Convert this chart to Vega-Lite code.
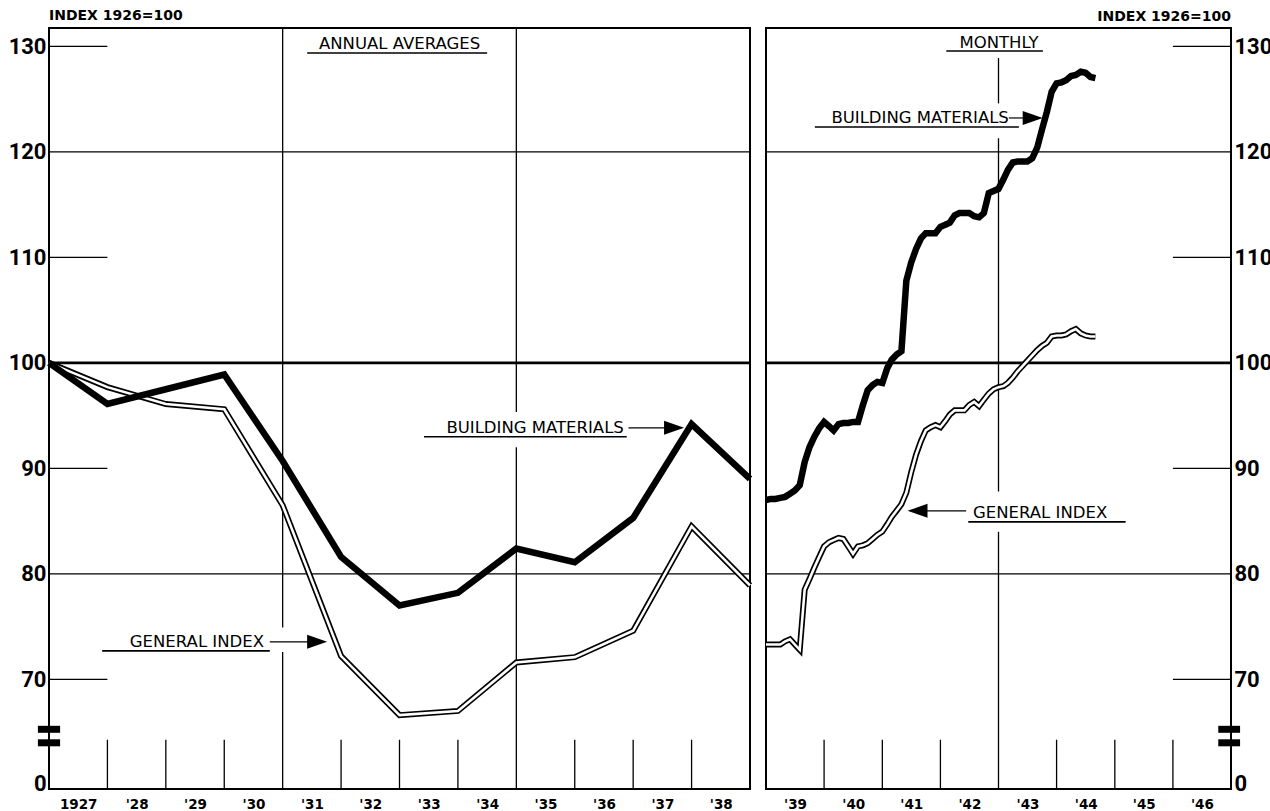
{
  "$schema": "https://vega.github.io/schema/vega-lite/v6.json",
  "background": "white",
  "padding": {"left": 7, "top": 8, "right": 0, "bottom": 0},
  "spacing": 16,
  "bounds": "flush",
  "config": {
    "font": "DejaVu Sans",
    "view": {"stroke": "black", "strokeWidth": 2},
    "axis": {"grid": false, "domain": false, "ticks": false, "labelColor": "black", "labelFlush": false, "labelOverlap": false, "labelBound": false},
    "title": {"color": "black", "font": "DejaVu Sans", "fontSize": 14, "fontWeight": "bold", "offset": 4}
  },
  "datasets": {
    "annual": [
      {"year": 1926, "bm": 100.0, "gi": 100.0},
      {"year": 1927, "bm": 96.1, "gi": 97.7},
      {"year": 1928, "bm": 97.5, "gi": 96.1},
      {"year": 1929, "bm": 98.9, "gi": 95.6},
      {"year": 1930, "bm": 90.7, "gi": 86.5},
      {"year": 1931, "bm": 81.6, "gi": 72.2},
      {"year": 1932, "bm": 77.0, "gi": 66.6},
      {"year": 1933, "bm": 78.2, "gi": 67.0},
      {"year": 1934, "bm": 82.4, "gi": 71.6},
      {"year": 1935, "bm": 81.1, "gi": 72.1},
      {"year": 1936, "bm": 85.3, "gi": 74.6},
      {"year": 1937, "bm": 94.2, "gi": 84.5},
      {"year": 1938, "bm": 89.0, "gi": 78.9}
    ],
    "monthly": [
      {"date": "1939-01", "bm": 87.0, "gi": 73.3},
      {"date": "1939-02", "bm": 87.1, "gi": 73.3},
      {"date": "1939-03", "bm": 87.1, "gi": 73.3},
      {"date": "1939-04", "bm": 87.2, "gi": 73.3},
      {"date": "1939-05", "bm": 87.3, "gi": 73.6},
      {"date": "1939-06", "bm": 87.6, "gi": 73.8},
      {"date": "1939-07", "bm": 87.9, "gi": 73.3},
      {"date": "1939-08", "bm": 88.4, "gi": 72.8},
      {"date": "1939-09", "bm": 90.6, "gi": 78.5},
      {"date": "1939-10", "bm": 92.0, "gi": 79.5},
      {"date": "1939-11", "bm": 93.0, "gi": 80.6},
      {"date": "1939-12", "bm": 93.8, "gi": 81.6},
      {"date": "1940-01", "bm": 94.4, "gi": 82.6},
      {"date": "1940-02", "bm": 94.0, "gi": 83.0},
      {"date": "1940-03", "bm": 93.6, "gi": 83.2},
      {"date": "1940-04", "bm": 94.2, "gi": 83.4},
      {"date": "1940-05", "bm": 94.3, "gi": 83.3},
      {"date": "1940-06", "bm": 94.3, "gi": 82.6},
      {"date": "1940-07", "bm": 94.4, "gi": 81.9},
      {"date": "1940-08", "bm": 94.4, "gi": 82.6},
      {"date": "1940-09", "bm": 96.0, "gi": 82.7},
      {"date": "1940-10", "bm": 97.4, "gi": 82.9},
      {"date": "1940-11", "bm": 97.9, "gi": 83.3},
      {"date": "1940-12", "bm": 98.2, "gi": 83.7},
      {"date": "1941-01", "bm": 98.1, "gi": 84.0},
      {"date": "1941-02", "bm": 99.5, "gi": 84.7},
      {"date": "1941-03", "bm": 100.3, "gi": 85.4},
      {"date": "1941-04", "bm": 100.8, "gi": 86.0},
      {"date": "1941-05", "bm": 101.1, "gi": 86.6},
      {"date": "1941-06", "bm": 107.8, "gi": 87.7},
      {"date": "1941-07", "bm": 109.5, "gi": 89.6},
      {"date": "1941-08", "bm": 110.8, "gi": 91.3},
      {"date": "1941-09", "bm": 111.8, "gi": 92.6},
      {"date": "1941-10", "bm": 112.3, "gi": 93.6},
      {"date": "1941-11", "bm": 112.3, "gi": 93.9},
      {"date": "1941-12", "bm": 112.3, "gi": 94.1},
      {"date": "1942-01", "bm": 112.9, "gi": 93.9},
      {"date": "1942-02", "bm": 113.1, "gi": 94.5},
      {"date": "1942-03", "bm": 113.3, "gi": 95.1},
      {"date": "1942-04", "bm": 114.0, "gi": 95.5},
      {"date": "1942-05", "bm": 114.2, "gi": 95.5},
      {"date": "1942-06", "bm": 114.2, "gi": 95.5},
      {"date": "1942-07", "bm": 114.2, "gi": 96.0},
      {"date": "1942-08", "bm": 113.9, "gi": 96.3},
      {"date": "1942-09", "bm": 113.8, "gi": 95.9},
      {"date": "1942-10", "bm": 114.2, "gi": 96.5},
      {"date": "1942-11", "bm": 116.1, "gi": 97.1},
      {"date": "1942-12", "bm": 116.3, "gi": 97.5},
      {"date": "1943-01", "bm": 116.5, "gi": 97.7},
      {"date": "1943-02", "bm": 117.4, "gi": 97.8},
      {"date": "1943-03", "bm": 118.3, "gi": 98.1},
      {"date": "1943-04", "bm": 119.0, "gi": 98.6},
      {"date": "1943-05", "bm": 119.1, "gi": 99.2},
      {"date": "1943-06", "bm": 119.1, "gi": 99.7},
      {"date": "1943-07", "bm": 119.1, "gi": 100.2},
      {"date": "1943-08", "bm": 119.4, "gi": 100.7},
      {"date": "1943-09", "bm": 120.4, "gi": 101.2},
      {"date": "1943-10", "bm": 122.1, "gi": 101.6},
      {"date": "1943-11", "bm": 123.8, "gi": 101.9},
      {"date": "1943-12", "bm": 125.7, "gi": 102.5},
      {"date": "1944-01", "bm": 126.5, "gi": 102.6},
      {"date": "1944-02", "bm": 126.6, "gi": 102.6},
      {"date": "1944-03", "bm": 126.8, "gi": 102.7},
      {"date": "1944-04", "bm": 127.2, "gi": 103.0},
      {"date": "1944-05", "bm": 127.3, "gi": 103.2},
      {"date": "1944-06", "bm": 127.6, "gi": 102.8},
      {"date": "1944-07", "bm": 127.5, "gi": 102.6},
      {"date": "1944-08", "bm": 127.1, "gi": 102.5},
      {"date": "1944-09", "bm": 127.0, "gi": 102.5}
    ],
    "gridThin": [{"v": 80}, {"v": 120}],
    "gridMain": [{"v": 100}],
    "stubsL": [{"v": 70, "a": 1926, "b": 1927}, {"v": 90, "a": 1926, "b": 1927}, {"v": 110, "a": 1926, "b": 1927}, {"v": 130, "a": 1926, "b": 1927}],
    "stubsR": [{"v": 70, "a": "1946-01-01", "b": "1947-01-01"}, {"v": 90, "a": "1946-01-01", "b": "1947-01-01"}, {"v": 110, "a": "1946-01-01", "b": "1947-01-01"}, {"v": 130, "a": "1946-01-01", "b": "1947-01-01"}],
    "vsegL": [
      {"x": 1930, "y1": 131.75, "y2": 74.9},
      {"x": 1930, "y1": 72.6, "y2": 59.6},
      {"x": 1934, "y1": 131.75, "y2": 95.35},
      {"x": 1934, "y1": 92.0, "y2": 59.6}
    ],
    "vsegR": [
      {"x": "1943-01-01", "y1": 128.9, "y2": 124.6},
      {"x": "1943-01-01", "y1": 121.3, "y2": 87.8},
      {"x": "1943-01-01", "y1": 84.0, "y2": 59.6}
    ],
    "ticksL": [{"x": 1927}, {"x": 1928}, {"x": 1929}, {"x": 1931}, {"x": 1932}, {"x": 1933}, {"x": 1935}, {"x": 1936}, {"x": 1937}],
    "ticksR": [{"x": "1940-01-01"}, {"x": "1941-01-01"}, {"x": "1942-01-01"}, {"x": "1944-01-01"}, {"x": "1945-01-01"}, {"x": "1946-01-01"}],
    "breakL": [{"a": 1925.81, "b": 1926.19, "y": 65.26}, {"a": 1925.81, "b": 1926.19, "y": 63.98}],
    "breakR": [{"a": "1946-10-13", "b": "1947-02-27", "y": 65.26}, {"a": "1946-10-13", "b": "1947-02-27", "y": 63.98}],
    "textCL": [{"label": "ANNUAL AVERAGES", "x": 1932.0, "y": 130.19}],
    "textRL": [{"label": "BUILDING MATERIALS", "x": 1935.84, "y": 93.84}, {"label": "GENERAL  INDEX", "x": 1929.68, "y": 73.55}],
    "ulineL": [
      {"a": 1930.42, "b": 1933.5, "y": 129.38},
      {"a": 1932.42, "b": 1935.89, "y": 92.99},
      {"a": 1926.91, "b": 1929.78, "y": 72.7}
    ],
    "arrowL": [
      {"a": 1935.92, "b": 1936.6, "y": 93.84},
      {"a": 1929.78, "b": 1930.45, "y": 73.55}
    ],
    "headL": [{"x": 1936.7, "y": 93.84}, {"x": 1930.59, "y": 73.55}],
    "textCR": [{"label": "MONTHLY", "x": "1943-01-04", "y": 130.33}],
    "textRR": [{"label": "BUILDING MATERIALS", "x": "1943-03-07", "y": 123.22}],
    "textLR": [{"label": "GENERAL  INDEX", "x": "1942-07-25", "y": 85.78}],
    "ulineR": [
      {"a": "1942-02-07", "b": "1943-10-07", "y": 129.57},
      {"a": "1939-11-04", "b": "1943-05-09", "y": 122.37},
      {"a": "1942-06-25", "b": "1945-03-10", "y": 84.93}
    ],
    "arrowR": [
      {"a": "1943-03-07", "b": "1943-07-01", "y": 123.22},
      {"a": "1941-09-20", "b": "1942-06-12", "y": 85.97}
    ],
    "headRR": [{"x": "1943-08-04", "y": 123.22}],
    "headRL": [{"x": "1941-08-10", "y": 85.97}]
  },
  "hconcat": [
    {
      "width": 701,
      "height": 761,
      "title": {"text": "INDEX 1926=100", "anchor": "start", "frame": "group"},
      "layer": [
        {
          "data": {"name": "gridThin"},
          "mark": {"type": "rule", "stroke": "black", "strokeWidth": 1.2},
          "encoding": {"y": {"field": "v", "type": "quantitative", "scale": {"domain": [59.6, 131.75], "nice": false, "zero": false}}}
        },
        {
          "data": {"name": "gridMain"},
          "mark": {"type": "rule", "stroke": "black", "strokeWidth": 2.6},
          "encoding": {"y": {"field": "v", "type": "quantitative", "scale": {"domain": [59.6, 131.75], "nice": false, "zero": false}}}
        },
        {
          "data": {"name": "stubsL"},
          "mark": {"type": "rule", "stroke": "black", "strokeWidth": 1.3},
          "encoding": {
            "x": {"field": "a", "type": "quantitative", "scale": {"domain": [1926, 1938], "nice": false, "zero": false}},
            "x2": {"field": "b"},
            "y": {"field": "v", "type": "quantitative", "scale": {"domain": [59.6, 131.75], "nice": false, "zero": false}}
          }
        },
        {
          "data": {"name": "vsegL"},
          "mark": {"type": "rule", "stroke": "black", "strokeWidth": 1.3},
          "encoding": {
            "x": {"field": "x", "type": "quantitative", "scale": {"domain": [1926, 1938], "nice": false, "zero": false}},
            "y": {"field": "y1", "type": "quantitative", "scale": {"domain": [59.6, 131.75], "nice": false, "zero": false}},
            "y2": {"field": "y2"}
          }
        },
        {
          "data": {"name": "ticksL"},
          "mark": {"type": "rule", "stroke": "black", "strokeWidth": 1.3},
          "encoding": {
            "x": {"field": "x", "type": "quantitative", "scale": {"domain": [1926, 1938], "nice": false, "zero": false}},
            "y": {"datum": 59.6, "type": "quantitative", "scale": {"domain": [59.6, 131.75], "nice": false, "zero": false}},
            "y2": {"datum": 64.27}
          }
        },
        {
          "data": {"name": "breakL"},
          "mark": {"type": "rule", "stroke": "black", "strokeWidth": 7},
          "encoding": {
            "x": {"field": "a", "type": "quantitative", "scale": {"domain": [1926, 1938], "nice": false, "zero": false}},
            "x2": {"field": "b"},
            "y": {"field": "y", "type": "quantitative", "scale": {"domain": [59.6, 131.75], "nice": false, "zero": false}}
          }
        },
        {
          "data": {"name": "annual"},
          "mark": {"type": "line", "stroke": "black", "strokeWidth": 6, "strokeJoin": "miter"},
          "encoding": {
            "x": {"field": "year", "type": "quantitative", "scale": {"domain": [1926, 1938], "nice": false, "zero": false},
              "axis": {"orient": "bottom", "title": null, "values": [1926.5, 1927.5, 1928.5, 1929.5, 1930.5, 1931.5, 1932.5, 1933.5, 1934.5, 1935.5, 1936.5, 1937.5],
                "labelExpr": "datum.value < 1927 ? '1927' : \"'\" + (floor(datum.value) - 1899)",
                "labelFont": "DejaVu Sans", "labelFontSize": 13.5, "labelFontWeight": "bold", "labelPadding": 8}},
            "y": {"field": "gi", "type": "quantitative", "scale": {"domain": [59.6, 131.75], "nice": false, "zero": false},
              "axis": {"orient": "left", "title": null, "values": [60.15, 70, 80, 90, 100, 110, 120, 130],
                "labelExpr": "datum.value < 65 ? '0' : datum.label",
                "labelFont": "Roboto", "labelFontSize": 22, "labelFontWeight": "bold", "labelPadding": 3, "labelBaseline": "middle"}}
          }
        },
        {
          "data": {"name": "annual"},
          "mark": {"type": "line", "stroke": "white", "strokeWidth": 2.6, "strokeJoin": "miter"},
          "encoding": {
            "x": {"field": "year", "type": "quantitative", "scale": {"domain": [1926, 1938], "nice": false, "zero": false}},
            "y": {"field": "gi", "type": "quantitative", "scale": {"domain": [59.6, 131.75], "nice": false, "zero": false}}
          }
        },
        {
          "data": {"name": "annual"},
          "mark": {"type": "line", "stroke": "black", "strokeWidth": 6.5, "strokeJoin": "miter"},
          "encoding": {
            "x": {"field": "year", "type": "quantitative", "scale": {"domain": [1926, 1938], "nice": false, "zero": false}},
            "y": {"field": "bm", "type": "quantitative", "scale": {"domain": [59.6, 131.75], "nice": false, "zero": false}}
          }
        },
        {
          "data": {"name": "textCL"},
          "mark": {"type": "text", "align": "center", "baseline": "middle", "fontSize": 16.5, "font": "DejaVu Sans", "color": "black"},
          "encoding": {
            "x": {"field": "x", "type": "quantitative", "scale": {"domain": [1926, 1938], "nice": false, "zero": false}},
            "y": {"field": "y", "type": "quantitative", "scale": {"domain": [59.6, 131.75], "nice": false, "zero": false}},
            "text": {"field": "label"}
          }
        },
        {
          "data": {"name": "textRL"},
          "mark": {"type": "text", "align": "right", "baseline": "middle", "fontSize": 16.5, "font": "DejaVu Sans", "color": "black"},
          "encoding": {
            "x": {"field": "x", "type": "quantitative", "scale": {"domain": [1926, 1938], "nice": false, "zero": false}},
            "y": {"field": "y", "type": "quantitative", "scale": {"domain": [59.6, 131.75], "nice": false, "zero": false}},
            "text": {"field": "label"}
          }
        },
        {
          "data": {"name": "ulineL"},
          "mark": {"type": "rule", "stroke": "black", "strokeWidth": 1.6},
          "encoding": {
            "x": {"field": "a", "type": "quantitative", "scale": {"domain": [1926, 1938], "nice": false, "zero": false}},
            "x2": {"field": "b"},
            "y": {"field": "y", "type": "quantitative", "scale": {"domain": [59.6, 131.75], "nice": false, "zero": false}}
          }
        },
        {
          "data": {"name": "arrowL"},
          "mark": {"type": "rule", "stroke": "black", "strokeWidth": 1.2},
          "encoding": {
            "x": {"field": "a", "type": "quantitative", "scale": {"domain": [1926, 1938], "nice": false, "zero": false}},
            "x2": {"field": "b"},
            "y": {"field": "y", "type": "quantitative", "scale": {"domain": [59.6, 131.75], "nice": false, "zero": false}}
          }
        },
        {
          "data": {"name": "headL"},
          "mark": {"type": "point", "shape": "M-1,-0.7L1,0L-1,0.7Z", "filled": true, "color": "black", "opacity": 1, "size": 400, "strokeWidth": 0},
          "encoding": {
            "x": {"field": "x", "type": "quantitative", "scale": {"domain": [1926, 1938], "nice": false, "zero": false}},
            "y": {"field": "y", "type": "quantitative", "scale": {"domain": [59.6, 131.75], "nice": false, "zero": false}}
          }
        }
      ]
    },
    {
      "width": 465,
      "height": 761,
      "title": {"text": "INDEX 1926=100", "anchor": "end", "frame": "group"},
      "layer": [
        {
          "data": {"name": "gridThin"},
          "mark": {"type": "rule", "stroke": "black", "strokeWidth": 1.2},
          "encoding": {"y": {"field": "v", "type": "quantitative", "scale": {"domain": [59.6, 131.75], "nice": false, "zero": false}}}
        },
        {
          "data": {"name": "gridMain"},
          "mark": {"type": "rule", "stroke": "black", "strokeWidth": 2.6},
          "encoding": {"y": {"field": "v", "type": "quantitative", "scale": {"domain": [59.6, 131.75], "nice": false, "zero": false}}}
        },
        {
          "data": {"name": "stubsR"},
          "mark": {"type": "rule", "stroke": "black", "strokeWidth": 1.3},
          "encoding": {
            "x": {"field": "a", "type": "temporal", "scale": {"type": "utc", "domain": [{"year": 1939, "month": 1, "date": 1, "utc": true}, {"year": 1947, "month": 1, "date": 1, "utc": true}], "nice": false}},
            "x2": {"field": "b"},
            "y": {"field": "v", "type": "quantitative", "scale": {"domain": [59.6, 131.75], "nice": false, "zero": false}}
          }
        },
        {
          "data": {"name": "vsegR"},
          "mark": {"type": "rule", "stroke": "black", "strokeWidth": 1.3},
          "encoding": {
            "x": {"field": "x", "type": "temporal", "scale": {"type": "utc", "domain": [{"year": 1939, "month": 1, "date": 1, "utc": true}, {"year": 1947, "month": 1, "date": 1, "utc": true}], "nice": false}},
            "y": {"field": "y1", "type": "quantitative", "scale": {"domain": [59.6, 131.75], "nice": false, "zero": false}},
            "y2": {"field": "y2"}
          }
        },
        {
          "data": {"name": "ticksR"},
          "mark": {"type": "rule", "stroke": "black", "strokeWidth": 1.3},
          "encoding": {
            "x": {"field": "x", "type": "temporal", "scale": {"type": "utc", "domain": [{"year": 1939, "month": 1, "date": 1, "utc": true}, {"year": 1947, "month": 1, "date": 1, "utc": true}], "nice": false}},
            "y": {"datum": 59.6, "type": "quantitative", "scale": {"domain": [59.6, 131.75], "nice": false, "zero": false}},
            "y2": {"datum": 64.27}
          }
        },
        {
          "data": {"name": "breakR"},
          "mark": {"type": "rule", "stroke": "black", "strokeWidth": 7},
          "encoding": {
            "x": {"field": "a", "type": "temporal", "scale": {"type": "utc", "domain": [{"year": 1939, "month": 1, "date": 1, "utc": true}, {"year": 1947, "month": 1, "date": 1, "utc": true}], "nice": false}},
            "x2": {"field": "b"},
            "y": {"field": "y", "type": "quantitative", "scale": {"domain": [59.6, 131.75], "nice": false, "zero": false}}
          }
        },
        {
          "data": {"name": "monthly"},
          "mark": {"type": "line", "stroke": "black", "strokeWidth": 6, "strokeJoin": "miter"},
          "encoding": {
            "x": {"field": "date", "type": "temporal", "scale": {"type": "utc", "domain": [{"year": 1939, "month": 1, "date": 1, "utc": true}, {"year": 1947, "month": 1, "date": 1, "utc": true}], "nice": false},
              "axis": {"orient": "bottom", "title": null, "values": [
                {"year": 1939, "month": 7, "date": 2, "utc": true}, {"year": 1940, "month": 7, "date": 2, "utc": true},
                {"year": 1941, "month": 7, "date": 2, "utc": true}, {"year": 1942, "month": 7, "date": 2, "utc": true},
                {"year": 1943, "month": 7, "date": 2, "utc": true}, {"year": 1944, "month": 7, "date": 2, "utc": true},
                {"year": 1945, "month": 7, "date": 2, "utc": true}, {"year": 1946, "month": 7, "date": 2, "utc": true}],
                "format": "'%y", "labelFont": "DejaVu Sans", "labelFontSize": 13.5, "labelFontWeight": "bold", "labelPadding": 8}},
            "y": {"field": "gi", "type": "quantitative", "scale": {"domain": [59.6, 131.75], "nice": false, "zero": false},
              "axis": {"orient": "right", "title": null, "values": [60.15, 70, 80, 90, 100, 110, 120, 130],
                "labelExpr": "datum.value < 65 ? '0' : datum.label",
                "labelFont": "Roboto", "labelFontSize": 22, "labelFontWeight": "bold", "labelPadding": 3, "labelBaseline": "middle"}}
          }
        },
        {
          "data": {"name": "monthly"},
          "mark": {"type": "line", "stroke": "white", "strokeWidth": 2.6, "strokeJoin": "miter"},
          "encoding": {
            "x": {"field": "date", "type": "temporal", "scale": {"type": "utc", "domain": [{"year": 1939, "month": 1, "date": 1, "utc": true}, {"year": 1947, "month": 1, "date": 1, "utc": true}], "nice": false}},
            "y": {"field": "gi", "type": "quantitative", "scale": {"domain": [59.6, 131.75], "nice": false, "zero": false}}
          }
        },
        {
          "data": {"name": "monthly"},
          "mark": {"type": "line", "stroke": "black", "strokeWidth": 6.5, "strokeJoin": "miter"},
          "encoding": {
            "x": {"field": "date", "type": "temporal", "scale": {"type": "utc", "domain": [{"year": 1939, "month": 1, "date": 1, "utc": true}, {"year": 1947, "month": 1, "date": 1, "utc": true}], "nice": false}},
            "y": {"field": "bm", "type": "quantitative", "scale": {"domain": [59.6, 131.75], "nice": false, "zero": false}}
          }
        },
        {
          "data": {"name": "textCR"},
          "mark": {"type": "text", "align": "center", "baseline": "middle", "fontSize": 16.5, "font": "DejaVu Sans", "color": "black"},
          "encoding": {
            "x": {"field": "x", "type": "temporal", "scale": {"type": "utc", "domain": [{"year": 1939, "month": 1, "date": 1, "utc": true}, {"year": 1947, "month": 1, "date": 1, "utc": true}], "nice": false}},
            "y": {"field": "y", "type": "quantitative", "scale": {"domain": [59.6, 131.75], "nice": false, "zero": false}},
            "text": {"field": "label"}
          }
        },
        {
          "data": {"name": "textRR"},
          "mark": {"type": "text", "align": "right", "baseline": "middle", "fontSize": 16.5, "font": "DejaVu Sans", "color": "black"},
          "encoding": {
            "x": {"field": "x", "type": "temporal", "scale": {"type": "utc", "domain": [{"year": 1939, "month": 1, "date": 1, "utc": true}, {"year": 1947, "month": 1, "date": 1, "utc": true}], "nice": false}},
            "y": {"field": "y", "type": "quantitative", "scale": {"domain": [59.6, 131.75], "nice": false, "zero": false}},
            "text": {"field": "label"}
          }
        },
        {
          "data": {"name": "textLR"},
          "mark": {"type": "text", "align": "left", "baseline": "middle", "fontSize": 16.5, "font": "DejaVu Sans", "color": "black"},
          "encoding": {
            "x": {"field": "x", "type": "temporal", "scale": {"type": "utc", "domain": [{"year": 1939, "month": 1, "date": 1, "utc": true}, {"year": 1947, "month": 1, "date": 1, "utc": true}], "nice": false}},
            "y": {"field": "y", "type": "quantitative", "scale": {"domain": [59.6, 131.75], "nice": false, "zero": false}},
            "text": {"field": "label"}
          }
        },
        {
          "data": {"name": "ulineR"},
          "mark": {"type": "rule", "stroke": "black", "strokeWidth": 1.6},
          "encoding": {
            "x": {"field": "a", "type": "temporal", "scale": {"type": "utc", "domain": [{"year": 1939, "month": 1, "date": 1, "utc": true}, {"year": 1947, "month": 1, "date": 1, "utc": true}], "nice": false}},
            "x2": {"field": "b"},
            "y": {"field": "y", "type": "quantitative", "scale": {"domain": [59.6, 131.75], "nice": false, "zero": false}}
          }
        },
        {
          "data": {"name": "arrowR"},
          "mark": {"type": "rule", "stroke": "black", "strokeWidth": 1.2},
          "encoding": {
            "x": {"field": "a", "type": "temporal", "scale": {"type": "utc", "domain": [{"year": 1939, "month": 1, "date": 1, "utc": true}, {"year": 1947, "month": 1, "date": 1, "utc": true}], "nice": false}},
            "x2": {"field": "b"},
            "y": {"field": "y", "type": "quantitative", "scale": {"domain": [59.6, 131.75], "nice": false, "zero": false}}
          }
        },
        {
          "data": {"name": "headRR"},
          "mark": {"type": "point", "shape": "M-1,-0.7L1,0L-1,0.7Z", "filled": true, "color": "black", "opacity": 1, "size": 400, "strokeWidth": 0},
          "encoding": {
            "x": {"field": "x", "type": "temporal", "scale": {"type": "utc", "domain": [{"year": 1939, "month": 1, "date": 1, "utc": true}, {"year": 1947, "month": 1, "date": 1, "utc": true}], "nice": false}},
            "y": {"field": "y", "type": "quantitative", "scale": {"domain": [59.6, 131.75], "nice": false, "zero": false}}
          }
        },
        {
          "data": {"name": "headRL"},
          "mark": {"type": "point", "shape": "M1,-0.7L-1,0L1,0.7Z", "filled": true, "color": "black", "opacity": 1, "size": 400, "strokeWidth": 0},
          "encoding": {
            "x": {"field": "x", "type": "temporal", "scale": {"type": "utc", "domain": [{"year": 1939, "month": 1, "date": 1, "utc": true}, {"year": 1947, "month": 1, "date": 1, "utc": true}], "nice": false}},
            "y": {"field": "y", "type": "quantitative", "scale": {"domain": [59.6, 131.75], "nice": false, "zero": false}}
          }
        }
      ]
    }
  ]
}
